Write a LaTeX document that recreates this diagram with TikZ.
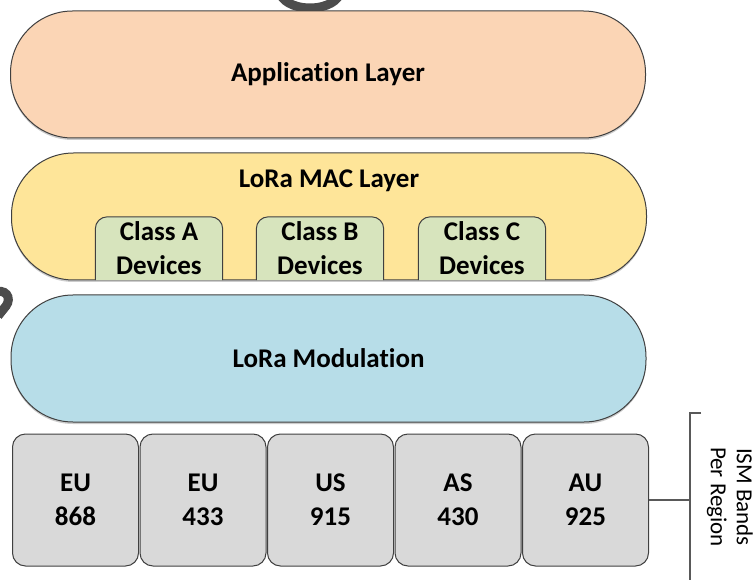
\documentclass[tikz,border=0pt]{standalone}
\usepackage{fontspec}
\setmainfont{Carlito}[Ligatures=NoCommon]
\usetikzlibrary{shadows}
\definecolor{appfill}{HTML}{FBD5B5}
\definecolor{macfill}{HTML}{FEE599}
\definecolor{classfill}{HTML}{D7E4BD}
\definecolor{modfill}{HTML}{B7DDE8}
\definecolor{bandfill}{HTML}{D9D9D9}
\definecolor{linec}{HTML}{404040}
\definecolor{brk}{HTML}{595959}
\begin{document}
\begin{tikzpicture}[x=1pt,y=-1pt,
  bigfont/.style={font=\fontsize{27}{34}\selectfont\bfseries},
  layer/.style={draw=linec, line width=1pt, rounded corners=62pt,
    minimum width=635pt, minimum height=127pt, inner sep=0pt,
    drop shadow={shadow xshift=0pt, shadow yshift=-2pt, fill=black!40}},
  classbox/.style={minimum width=127pt, minimum height=63pt, inner sep=0pt,
    align=center, bigfont},
  band/.style={draw=linec, line width=1pt, fill=bandfill, rounded corners=13pt,
    minimum width=126pt, minimum height=132pt, inner sep=0pt, align=center, bigfont},
  bracketline/.style={draw=brk, line width=1.5pt},
  artifact/.style={draw=black!70, line width=9pt}
]
\useasboundingbox (0,0) rectangle (753,580);

% partial glyph fragments at edges
\begin{scope}
\clip (0,0) rectangle (753,580);
\draw[artifact] (310,-9) ellipse [x radius=30, y radius=17];
\draw[artifact] (-8,293) .. controls (6,287) and (12,298) .. (6,306) -- (-2,316);
\end{scope}

% layers
\node[layer, fill=appfill, bigfont] (app) at (328,74.5) {Application Layer};
\node[layer, fill=macfill] (mac) at (329,216.5) {};
\node[bigfont] (mactitle) at (329,181) {LoRa MAC Layer};
\node[layer, fill=modfill, bigfont] (mod) at (328.5,358.5) {LoRa Modulation};

% device classes
\node[classbox] (ca) at (159,248.5) {};
\node[classbox] (cb) at (320,248.5) {};
\node[classbox] (cc) at (482,248.5) {};
\foreach \n in {ca,cb,cc}{
  \path[fill=classfill, draw=linec, line width=1pt]
    (\n.south west) [rounded corners=12pt] -- (\n.north west) -- (\n.north east) [sharp corners] -- (\n.south east);
}
\node[classbox] (cat) at (ca) {Class A\\Devices};
\node[classbox] (cbt) at (cb) {Class B\\Devices};
\node[classbox] (cct) at (cc) {Class C\\Devices};

% bands
\node[band] (eu868) at (75.5,500) {EU\\868};
\node[band] (eu433) at (203,500) {EU\\433};
\node[band] (us915) at (330.5,500) {US\\915};
\node[band] (as430) at (458,500) {AS\\430};
\node[band] (au925) at (585.5,500) {AU\\925};

% bracket
\coordinate (btick) at (701,413);
\coordinate (btop) at (690,413);
\coordinate (bbot) at (690,580);
\draw[bracketline] (btick) -- (btop) -- (bbot);
\draw[bracketline] (au925.east) -- (au925.east -| btop);
\node[rotate=-90, align=center, inner sep=0pt, font=\fontsize{23}{26}\selectfont] (ism) at (730,497) {ISM Bands\\Per Region};
\end{tikzpicture}
\end{document}
